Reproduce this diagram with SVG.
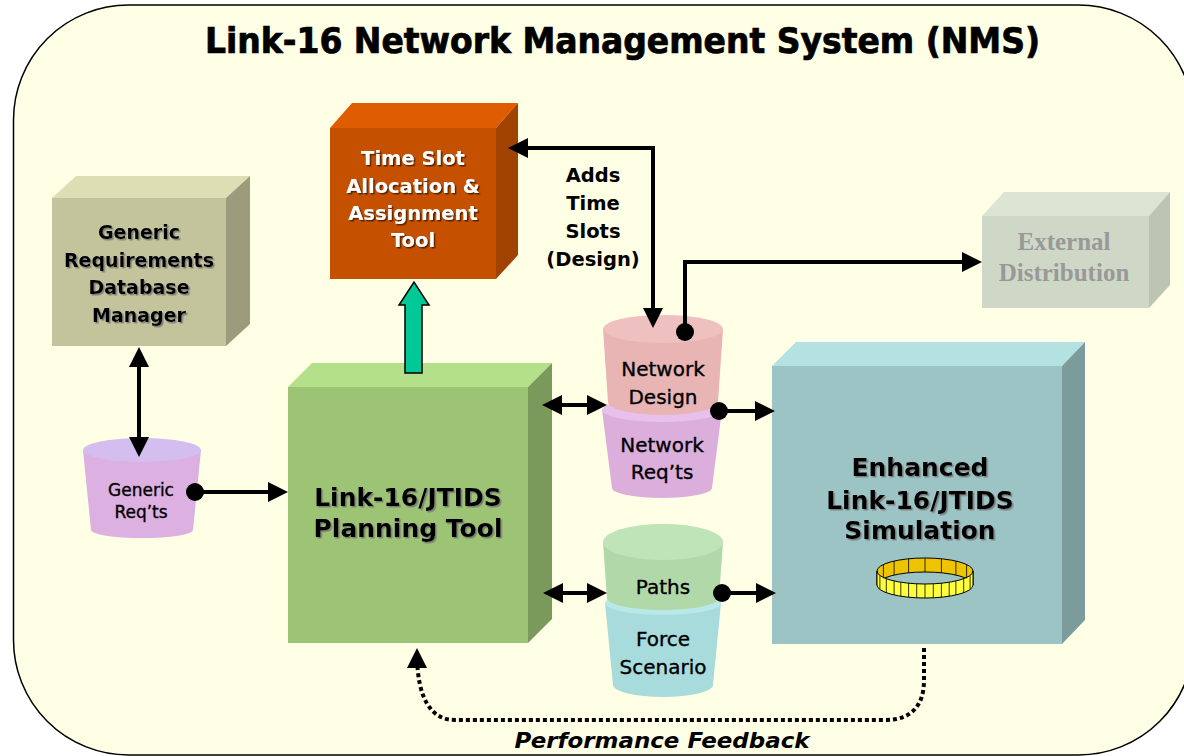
<svg xmlns="http://www.w3.org/2000/svg" width="1184" height="756" viewBox="0 0 1184 756">
<defs>
<style>
.lbl{font-family:"DejaVu Sans","Liberation Sans",sans-serif;font-weight:bold;text-anchor:middle;fill:#000}
.cyl{font-family:"DejaVu Sans","Liberation Sans",sans-serif;text-anchor:middle;fill:#000;stroke:#000;stroke-width:0.35}
.conn{fill:none;stroke:#000;stroke-width:4}
.seg{stroke:#000;stroke-width:0.8}
</style>
<marker id="ah" viewBox="0 0 20 20" markerUnits="userSpaceOnUse" markerWidth="20" markerHeight="20" refX="15" refY="10" orient="auto-start-reverse">
<path d="M0,0 L20,10 L0,20 z" fill="#000"/>
</marker>
<filter id="sh" x="-10%" y="-10%" width="120%" height="130%">
<feDropShadow dx="1.5" dy="1.5" stdDeviation="0.4" flood-color="#707070" flood-opacity="0.8"/>
</filter>
<filter id="shd" x="-10%" y="-10%" width="120%" height="130%">
<feDropShadow dx="1.5" dy="1.5" stdDeviation="0.4" flood-color="#4a1a00" flood-opacity="0.9"/>
</filter>
</defs>

<rect id="background" x="13.5" y="5" width="1180" height="750" rx="115" ry="115" fill="#FFFFE5" stroke="#000" stroke-width="1.5"/>

<text id="title" x="205" y="53" textLength="835" lengthAdjust="spacingAndGlyphs" style="font-family:'DejaVu Sans Condensed','DejaVu Sans',sans-serif;font-weight:bold;font-size:35px;fill:#000;stroke:#000;stroke-width:0.7">Link-16 Network Management System (NMS)</text>

<g id="generic-db">
<polygon points="52,198 76,176 250,176 226,198" fill="#DEDEB4"/>
<polygon points="226,198 250,176 250,324 226,346" fill="#9C9C7C"/>
<rect x="52" y="198" width="174" height="148" fill="#C4C49C"/>
<g filter="url(#sh)" style="font-size:19px">
<text class="lbl" x="139" y="239">Generic</text>
<text class="lbl" x="139" y="267">Requirements</text>
<text class="lbl" x="139" y="294">Database</text>
<text class="lbl" x="139" y="322">Manager</text>
</g>
</g>

<g id="time-slot-tool">
<polygon points="330,128 352,103 518,103 496,128" fill="#E05C00"/>
<polygon points="496,128 518,103 518,255 496,279" fill="#A04200"/>
<rect x="330" y="128" width="166" height="151" fill="#C55000"/>
<g filter="url(#shd)" style="font-size:19.5px">
<text class="lbl" x="413" y="165" style="fill:#fff">Time Slot</text>
<text class="lbl" x="413" y="193" style="fill:#fff">Allocation &amp;</text>
<text class="lbl" x="413" y="220" style="fill:#fff">Assignment</text>
<text class="lbl" x="413" y="247" style="fill:#fff">Tool</text>
</g>
</g>

<g id="external-distribution">
<polygon points="982,216 1004,192 1170,192 1149,216" fill="#DCE4D4"/>
<polygon points="1149,216 1170,192 1170,285 1149,308" fill="#BCC4B4"/>
<rect x="982" y="216" width="167" height="92" fill="#CFD8C6"/>
<text x="1064" y="250" style="font-family:'Liberation Serif','Times New Roman',serif;font-weight:bold;font-size:25px;fill:#999;text-anchor:middle">External</text>
<text x="1064" y="281" style="font-family:'Liberation Serif','Times New Roman',serif;font-weight:bold;font-size:25px;fill:#999;text-anchor:middle">Distribution</text>
</g>

<g id="planning-tool">
<polygon points="288,387 312,363 552,363 528,387" fill="#B4E08A"/>
<polygon points="528,387 552,363 552,619 528,643" fill="#7A9A5C"/>
<rect x="288" y="387" width="240" height="256" fill="#9DC374"/>
<g filter="url(#sh)" style="font-size:25px">
<text class="lbl" x="408" y="506">Link-16/JTIDS</text>
<text class="lbl" x="408" y="537">Planning Tool</text>
</g>
</g>

<g id="simulation">
<polygon points="772,366 796,342 1085,342 1062,366" fill="#B4E2E2"/>
<polygon points="1062,366 1085,342 1085,620 1062,644" fill="#7C9C9C"/>
<rect x="772" y="366" width="290" height="278" fill="#9CC4C4"/>
<g filter="url(#sh)" style="font-size:25px">
<text class="lbl" x="920" y="476">Enhanced</text>
<text class="lbl" x="920" y="509">Link-16/JTIDS</text>
<text class="lbl" x="920" y="539">Simulation</text>
</g>
<g id="ring">
<path d="M877,571 A48,13 0 0 1 973,571 L973,585 A48,13 0 0 0 877,585 Z" fill="#EEC400" stroke="#000" stroke-width="1"/>
<path d="M877,571 A48,13 0 0 0 973,571 L973,585 A48,13 0 0 1 877,585 Z" fill="#FFFF3C" stroke="#000" stroke-width="1"/>
<g class="seg">
<line x1="883.4" y1="564.5" x2="883.4" y2="578.5"/>
<line x1="894.1" y1="561.0" x2="894.1" y2="575.0"/>
<line x1="908.6" y1="558.8" x2="908.6" y2="572.8"/>
<line x1="925" y1="558" x2="925" y2="572"/>
<line x1="941.4" y1="558.8" x2="941.4" y2="572.8"/>
<line x1="955.9" y1="561.0" x2="955.9" y2="575.0"/>
<line x1="966.6" y1="564.5" x2="966.6" y2="578.5"/>
<line x1="879.9" y1="575.4" x2="879.9" y2="589.4"/>
<line x1="886.3" y1="578.8" x2="886.3" y2="592.8"/>
<line x1="894.1" y1="581.0" x2="894.1" y2="595.0"/>
<line x1="900.8" y1="582.2" x2="900.8" y2="596.2"/>
<line x1="908.6" y1="583.2" x2="908.6" y2="597.2"/>
<line x1="916.7" y1="583.8" x2="916.7" y2="597.8"/>
<line x1="925" y1="584" x2="925" y2="598"/>
<line x1="933.3" y1="583.8" x2="933.3" y2="597.8"/>
<line x1="941.4" y1="583.2" x2="941.4" y2="597.2"/>
<line x1="949.2" y1="582.2" x2="949.2" y2="596.2"/>
<line x1="955.9" y1="581.0" x2="955.9" y2="595.0"/>
<line x1="963.7" y1="578.8" x2="963.7" y2="592.8"/>
<line x1="970.1" y1="575.4" x2="970.1" y2="589.4"/>
</g>
</g>
</g>

<g id="generic-reqts">
<path d="M83,450 L91,530 A51,8 0 0 0 193,530 L201,450 Z" fill="#DCB0E0"/>
<ellipse cx="142" cy="450" rx="59" ry="12" fill="#D4BEF0"/>
<text class="cyl" x="141" y="496" style="font-size:17px">Generic</text>
<text class="cyl" x="141" y="518" style="font-size:17px">Req’ts</text>
</g>

<g id="network-reqts">
<path d="M602,410 L612,488 A50,10 0 0 0 712,488 L722,410 Z" fill="#DCAEDC"/>
<ellipse cx="662" cy="410" rx="60" ry="12" fill="#E8C0EC"/>
<text class="cyl" x="662" y="452" style="font-size:20px">Network</text>
<text class="cyl" x="662" y="479" style="font-size:20px">Req’ts</text>
</g>

<g id="network-design">
<path d="M603,329 L608,402 A55,13 0 0 0 718,402 L723,329 Z" fill="#E8B4B4"/>
<ellipse cx="663" cy="329" rx="60" ry="14" fill="#EEC0C0"/>
<text class="cyl" x="663" y="376" style="font-size:20px">Network</text>
<text class="cyl" x="663" y="404" style="font-size:20px">Design</text>
</g>

<g id="force-scenario">
<path d="M605,603 L613,685 A50,12 0 0 0 713,685 L721,603 Z" fill="#A8DCDC"/>
<ellipse cx="663" cy="603" rx="58" ry="12" fill="#B8E8E8"/>
<text class="cyl" x="663" y="646" style="font-size:20px">Force</text>
<text class="cyl" x="663" y="674" style="font-size:20px">Scenario</text>
</g>

<g id="paths">
<path d="M603,542 L607,598 A56,12 0 0 0 719,598 L723,542 Z" fill="#B0D8A8"/>
<ellipse cx="663" cy="542" rx="60" ry="18" fill="#BEE4B8"/>
<text class="cyl" x="663" y="594" style="font-size:20px">Paths</text>
</g>

<g id="connectors">
<path class="conn" d="M139,352 L139,452" marker-start="url(#ah)" marker-end="url(#ah)"/>
<path class="conn" d="M195,492 L283,492" marker-end="url(#ah)"/>
<circle cx="195" cy="492" r="9" fill="#000"/>
<path class="conn" d="M513,148 L653,148 L653,323" marker-start="url(#ah)" marker-end="url(#ah)"/>
<path class="conn" d="M685,332 L685,262 L977,262" marker-end="url(#ah)"/>
<circle cx="685" cy="332" r="9" fill="#000"/>
<path class="conn" d="M547,405 L602,405" marker-start="url(#ah)" marker-end="url(#ah)"/>
<path class="conn" d="M719,411 L770,411" marker-end="url(#ah)"/>
<circle cx="719" cy="411" r="9" fill="#000"/>
<path class="conn" d="M548,593 L602,593" marker-start="url(#ah)" marker-end="url(#ah)"/>
<path class="conn" d="M722,593 L771,593" marker-end="url(#ah)"/>
<circle cx="722" cy="593" r="9" fill="#000"/>
<polygon points="405,373 405,305 399,305 414,282 429,305 422,305 422,373" fill="#00C896" stroke="#000" stroke-width="1.5"/>
<path d="M924,648 L924,680 C924,705 912,720 885,720 L455,720 C432,720 417,700 417,653" fill="none" stroke="#000" stroke-width="4" stroke-dasharray="4 3" marker-end="url(#ah)"/>
</g>

<g id="labels">
<g style="font-size:19.5px">
<text class="lbl" x="593" y="182">Adds</text>
<text class="lbl" x="593" y="210">Time</text>
<text class="lbl" x="593" y="238">Slots</text>
<text class="lbl" x="593" y="266">(Design)</text>
</g>
<text x="662" y="748" textLength="295" lengthAdjust="spacingAndGlyphs" style="font-family:'DejaVu Sans','Liberation Sans',sans-serif;font-weight:bold;font-style:italic;font-size:22px;text-anchor:middle;fill:#000">Performance Feedback</text>
</g>
</svg>
